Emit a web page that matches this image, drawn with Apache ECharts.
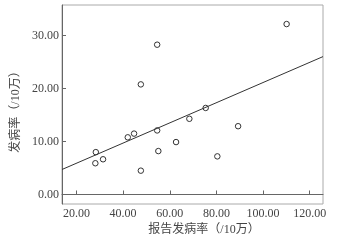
<!DOCTYPE html>
<html>
<head>
<meta charset="utf-8">
<script src="https://cdn.jsdelivr.net/npm/echarts@6/dist/echarts.min.js"></script>
<style>html,body{margin:0;padding:0;background:#fff;}#c{width:337px;height:243px;}</style>
</head>
<body>
<div id="c"></div>
<script>
var reportedRate = [28.3, 28.1, 31.4, 42.0, 44.7, 47.6, 54.6, 55.1, 62.7, 68.4, 75.4, 89.3, 80.4, 110.1, 54.6, 47.6];
var incidenceRate = [8.0, 5.9, 6.65, 10.8, 11.5, 4.5, 12.1, 8.2, 9.9, 14.3, 16.35, 12.9, 7.2, 32.2, 28.3, 20.8];
var fitX = [13.8, 125.7];
var fitY = [4.72, 26.05];
var xTicks = [20, 40, 60, 80, 100, 120];
var yTicks = [0, 10, 20, 30];
var xTitle = '报告发病率（/10万）';
var yTitle = '发病率（/10万）';

var pts = reportedRate.map(function (x, i) { return [x, incidenceRate[i]]; });
var line = fitX.map(function (x, i) { return [x, fitY[i]]; });
var serif = '"Liberation Serif", "Noto Sans CJK SC", serif';
var chart = echarts.init(document.getElementById('c'), null, {renderer: 'canvas'});
chart.setOption({
  animation: false,
  backgroundColor: '#fff',
  grid: {left: 62, top: 5, right: 14, bottom: 39, show: true, borderColor: '#aaa', borderWidth: 1},
  xAxis: {
    type: 'value', min: 13.8, max: 125.7,
    axisLine: {lineStyle: {color: '#666'}},
    axisTick: {inside: true, length: 4, customValues: xTicks, lineStyle: {color: '#666'}},
    axisLabel: {customValues: xTicks, margin: 4, color: '#444', fontFamily: serif, fontSize: 12,
      formatter: function (v) { return v.toFixed(2); }},
    splitLine: {show: false}
  },
  yAxis: {
    type: 'value', min: -1.8, max: 35.8,
    axisLine: {show: true, lineStyle: {color: '#666'}},
    axisTick: {show: true, inside: true, length: 4, customValues: yTicks, lineStyle: {color: '#666'}},
    axisLabel: {customValues: yTicks, margin: 3, color: '#444', fontFamily: serif, fontSize: 12,
      formatter: function (v) { return v.toFixed(2); }},
    splitLine: {show: false}
  },
  graphic: [
    {type: 'text', x: 204, y: 230, style: {text: xTitle, fill: '#444', font: '12px ' + serif, textAlign: 'center', textVerticalAlign: 'middle'}},
    {type: 'text', x: 15.5, y: 109, rotation: Math.PI / 2, style: {text: yTitle, fill: '#444', font: '12px ' + serif, textAlign: 'center', textVerticalAlign: 'middle'}}
  ],
  series: [
    {type: 'line', data: line, showSymbol: false, symbol: 'none', lineStyle: {color: '#333', width: 1}, silent: true},
    {type: 'scatter', data: pts, symbol: 'circle', symbolSize: 5.5, itemStyle: {color: '#fff', borderColor: '#333', borderWidth: 1, opacity: 1}}
  ]
});
</script>
</body>
</html>
